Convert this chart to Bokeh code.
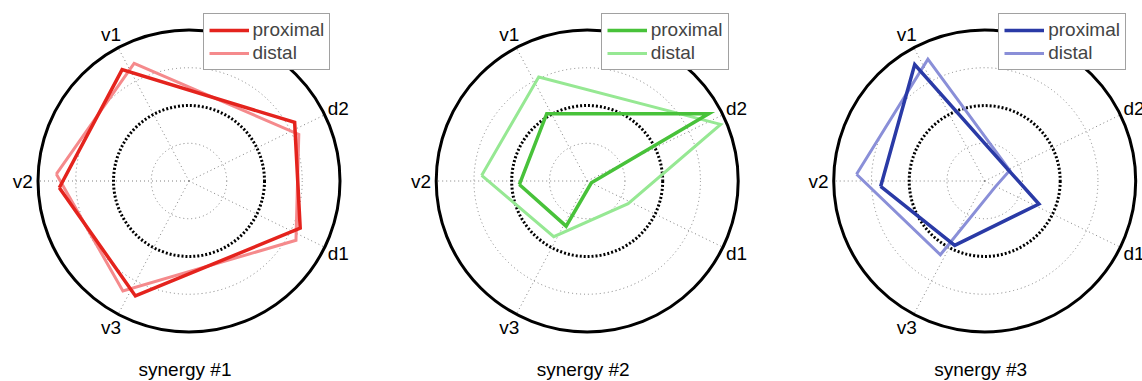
import numpy as np
from bokeh.plotting import figure
from bokeh.models import Range1d, Legend, LegendItem
from bokeh.core.properties import value
from bokeh.embed import file_html
from bokeh.resources import INLINE

# ---- data ----
axis_labels = ["v2", "v1", "d2", "d1", "v3"]
axis_angles_deg = [180, 118, 26, -26, -118]
# the two series are drawn slightly rotated apart (proximal +3 deg, distal -3 deg)
series_angle_offset_deg = [3, -3]
titles = ["synergy #1", "synergy #2", "synergy #3"]
series_names = ["proximal", "distal"]

syn1_proximal = [0.86, 0.86, 0.80, 0.80, 0.84]
syn1_distal = [0.88, 0.86, 0.79, 0.81, 0.85]
syn2_proximal = [0.45, 0.52, 0.92, 0.03, 0.33]
syn2_distal = [0.70, 0.76, 0.96, 0.31, 0.43]
syn3_proximal = [0.69, 0.90, 0.17, 0.39, 0.47]
syn3_distal = [0.85, 0.89, 0.18, 0.08, 0.57]

ring_levels = [0.25, 0.5, 0.75, 1.0]

proximal_colors = ["#e4231d", "#48c23a", "#2a3aa6"]
distal_colors = ["#f58a8c", "#96e893", "#8a8fd8"]

# ---- layout ----
W, H = 1142, 381
centers_x = [188.5, 586.7, 984.2]
center_y = 180.5
R = 151.0
FONT = "Liberation Sans"
FS = "19px"

p = figure(width=W, height=H, output_backend="svg", toolbar_location=None,
           x_range=Range1d(0, W), y_range=Range1d(H, 0), min_border=0,
           outline_line_color=None)
p.axis.visible = False
p.grid.visible = False

base_ang = np.deg2rad(np.array(axis_angles_deg, dtype=float))

def to_xy(cx, vals, offset_deg):
    a = base_ang + np.deg2rad(offset_deg)
    v = np.array(vals, dtype=float) * R
    x = cx + v * np.cos(a)
    y = center_y - v * np.sin(a)
    return list(x) + [x[0]], list(y) + [y[0]]

all_series = [(syn1_proximal, syn1_distal), (syn2_proximal, syn2_distal), (syn3_proximal, syn3_distal)]

for k, cx in enumerate(centers_x):
    # spokes
    for a in base_ang:
        p.line([cx, cx + R * np.cos(a)], [center_y, center_y - R * np.sin(a)],
               line_color="#808080", line_width=1, line_dash="1 3")
    # rings
    for lev in ring_levels:
        if lev == 1.0:
            p.circle([cx], [center_y], radius=lev * R, fill_color=None,
                     line_color="black", line_width=3)
        elif lev == 0.5:
            p.circle([cx], [center_y], radius=lev * R, fill_color=None,
                     line_color="black", line_width=3, line_dash="2 2")
        else:
            p.circle([cx], [center_y], radius=lev * R, fill_color=None,
                     line_color="#808080", line_width=1, line_dash="1 3")
    # axis labels
    lx = [cx + 1.1 * R * np.cos(a) for a in base_ang]
    ly = [center_y - 1.1 * R * np.sin(a) for a in base_ang]
    p.text(lx, ly, text=axis_labels, text_align="center", text_baseline="middle",
           text_font=value(FONT), text_font_size=FS, text_color="black")
    # title
    p.text([cx - 4], [369], text=[titles[k]], text_align="center", text_baseline="middle",
           text_font=value(FONT), text_font_size=FS, text_color="black")

    prox, dist = all_series[k]
    xd, yd = to_xy(cx, dist, series_angle_offset_deg[1])
    xp, yp = to_xy(cx, prox, series_angle_offset_deg[0])
    rd = p.line(xd, yd, line_color=distal_colors[k], line_width=3, line_join="miter")
    rp = p.line(xp, yp, line_color=proximal_colors[k], line_width=3.5, line_join="miter")

    leg = Legend(items=[LegendItem(label=series_names[0], renderers=[rp]),
                        LegendItem(label=series_names[1], renderers=[rd])],
                 location=(cx + 14, H - 70), orientation="vertical",
                 label_text_font=FONT, label_text_font_size=FS,
                 glyph_width=40, glyph_height=20, label_height=20, label_standoff=4,
                 spacing=1, padding=5, margin=0,
                 border_line_color="#444444", border_line_width=1,
                 background_fill_color="white", background_fill_alpha=1.0)
    p.add_layout(leg, "center")

open("out.html", "w").write(file_html(p, INLINE))
